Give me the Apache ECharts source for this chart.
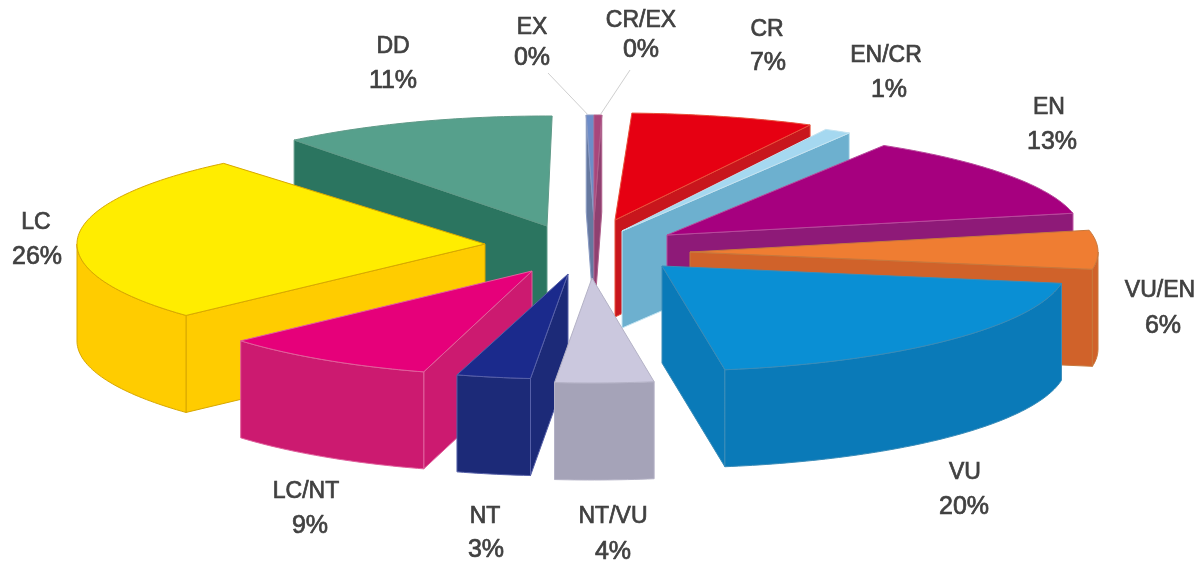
<!DOCTYPE html>
<html>
<head>
<meta charset="utf-8">
<style>html,body{margin:0;padding:0;background:#fff}#chart{width:1199px;height:562px}</style>
<script src="https://cdn.jsdelivr.net/npm/echarts@6/dist/echarts.min.js"></script>
</head>
<body>
<div id="chart"></div>
<script>
// Red List categories, clockwise from the top of the pie.
const categories = ['EX', 'CR/EX', 'CR', 'EN/CR', 'EN', 'VU/EN', 'VU', 'NT/VU', 'NT', 'LC/NT', 'LC', 'DD'];
// Share of species in percent; the two extinct classes are below half a percent.
const shares = [0.3, 0.3, 7, 1, 13, 6, 20, 4, 3, 9, 26, 11];

// Face colours per category.
const topColors  = ['#6d8cc8', '#a8467c', '#e60012', '#a5d8f0', '#a6007f', '#ef7d32', '#0a8fd4', '#cbc8de', '#1b2a8c', '#e6007a', '#ffed00', '#56a08c'];
const wallColors = ['#66789f', '#8f4070', '#c8161d', '#6db0cf', '#8e1a78', '#d0622a', '#0a7ab8', '#a5a3b8', '#1c2a78', '#cc1a70', '#ffcc00', '#2b7560'];
const edgeColors = ['#8a9bc4', '#b0608c', '#e8503a', '#c4e4f2', '#b84a9c', '#c8783c', '#3a8cb8', '#b4b2c6', '#5660a8', '#e0609c', '#d8a800', '#5f9a88'];

// Where each wedge's apex lands once pulled out of the pie.
const apexX = [594, 594, 615, 622, 667, 690, 662, 592, 568, 532, 485, 547];
const apexY = [220, 220, 220, 231, 235, 252, 266, 278, 274, 271, 244, 226];
// Ellipse radii per wedge.
const radiusX = [415, 415, 425, 435, 415, 408, 405, 400, 400, 390, 408, 405];
const radiusY = [105, 105, 107, 115, 105, 105, 105, 105, 105, 105, 105, 110];
const depth = 97;
// Rotation of each wedge around its apex, in degrees.
const turns = [0, 0, 1.2, 1.8, 1.8, 1.8, 1.8, 1.8, 1.8, 1.8, 0.6, 1.8];

// Back-to-front drawing order.
const paintOrder = ['EX', 'CR/EX', 'CR', 'EN/CR', 'EN', 'VU/EN', 'VU', 'DD', 'LC', 'LC/NT', 'NT', 'NT/VU'];

// Label anchors: category name and percentage.
const nameAnchors = [[532, 28], [641, 21], [767, 30], [886, 56], [1049, 108], [1160, 291], [965, 473], [613, 517], [485, 517], [306, 492], [36, 223], [393, 47]];
const pctAnchors  = [[532, 58], [641, 50], [768, 63], [889, 90], [1052, 142], [1163, 326], [964, 507], [613, 552], [486, 550], [310, 526], [37, 257], [393, 81]];
// Leader lines run from these points to the rim of the two slivers.
const leaderStarts = {0: [548, 73], 1: [630, 70]};

const total = shares.reduce((a, b) => a + b, 0);
const degPerUnit = 360 / total;
const rad = d => d * Math.PI / 180;

// Angular span of every wedge, measured clockwise from 12 o'clock.
const spans = [];
let cursor = -shares[0] * degPerUnit;
shares.forEach((v, i) => {
  spans.push([cursor + turns[i], cursor + v * degPerUnit + turns[i]]);
  cursor += v * degPerUnit;
});

function rimPoint(i, deg, drop) {
  return [apexX[i] + radiusX[i] * Math.sin(rad(deg)),
          apexY[i] - radiusY[i] * Math.cos(rad(deg)) + drop];
}
function rimArc(i, from, to, drop) {
  const pts = [];
  const steps = Math.max(2, Math.ceil(to - from));
  for (let s = 0; s <= steps; s++) pts.push(rimPoint(i, from + (to - from) * s / steps, drop));
  return pts;
}
function face(points, fill, stroke) {
  return {type: 'polygon', shape: {points}, style: {fill, stroke, lineWidth: 1, lineJoin: 'round'}};
}
function textEl(str, at, size) {
  return {
    type: 'text', x: at[0], y: at[1],
    style: {text: str, fill: '#404040', stroke: '#404040', lineWidth: 0.7, font: size + 'px "Liberation Sans", Arial, sans-serif',
            align: 'center', verticalAlign: 'middle'}
  };
}

function renderWedge(params, api) {
  const i = categories.indexOf(paintOrder[params.dataIndex]);
  const [a, b] = spans[i];
  const children = [];
  const apex = [apexX[i], apexY[i]];
  const apexLow = [apexX[i], apexY[i] + depth];

  // Only the walls facing the viewer are drawn, so the wedges stay solid.
  if (a < 0 || a > 180) {
    children.push(face([apex, rimPoint(i, a, 0), rimPoint(i, a, depth), apexLow], wallColors[i], edgeColors[i]));
  }
  if (b > 0 && b < 180) {
    children.push(face([apex, rimPoint(i, b, 0), rimPoint(i, b, depth), apexLow], wallColors[i], edgeColors[i]));
  }
  const frontA = Math.max(a, 90), frontB = Math.min(b, 270);
  if (frontB > frontA) {
    const upper = rimArc(i, frontA, frontB, 0);
    const lower = rimArc(i, frontA, frontB, depth).reverse();
    children.push(face(upper.concat(lower), wallColors[i], edgeColors[i]));
  }
  children.push(face([apex].concat(rimArc(i, a, b, 0)), topColors[i], edgeColors[i]));

  if (leaderStarts[i]) {
    const end = rimPoint(i, (a + b) / 2 + (i === 0 ? -0.4 : 0.4), 0);
    children.push({type: 'line', shape: {x1: leaderStarts[i][0], y1: leaderStarts[i][1], x2: end[0], y2: end[1] - 1},
                   style: {stroke: '#cfcfcf', lineWidth: 1}});
  }
  children.push(textEl(categories[i], nameAnchors[i], 23));
  children.push(textEl(Math.round(shares[i]) + '%', pctAnchors[i], 25));
  return {type: 'group', children};
}

const chart = echarts.init(document.getElementById('chart'));
chart.setOption({
  animation: false,
  backgroundColor: '#ffffff',
  series: [{
    type: 'custom',
    coordinateSystem: 'none',
    silent: true,
    clip: false,
    renderItem: renderWedge,
    data: paintOrder.map(name => ({name, value: [shares[categories.indexOf(name)]]}))
  }]
});
</script>
</body>
</html>
